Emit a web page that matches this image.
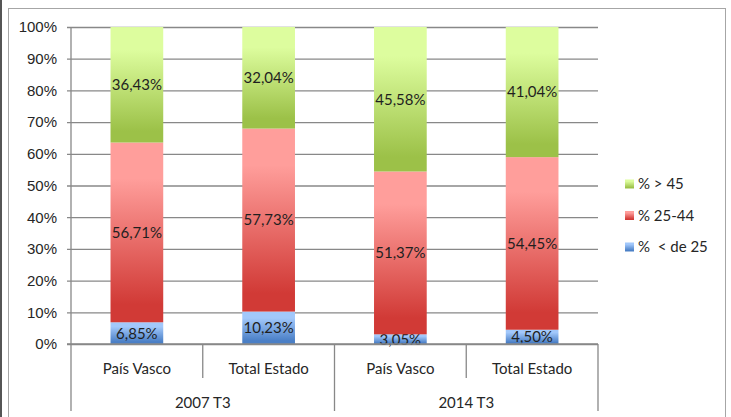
<!DOCTYPE html>
<html>
<head>
<meta charset="utf-8">
<script src="https://cdn.jsdelivr.net/npm/d3@7"></script>
<style>
  body { margin: 0; background: #fff; }
  svg { display: block; font-family: Lato, "Open Sans", sans-serif; }
  .tick text { fill: #262626; }
</style>
</head>
<body>
<div class="chart-container"></div>
<script>
(function() {
  ////////////////////////////////////////////////////////////
  //// Data //////////////////////////////////////////////////
  ////////////////////////////////////////////////////////////
  const groups = ["2007 T3", "2014 T3"];
  const regions = ["País Vasco", "Total Estado"];
  const seriesNames = ["% < de 25", "% 25-44", "% > 45"];
  const legendLabels = ["% > 45", "% 25-44", "%  < de 25"];
  const under25 = [6.85, 10.23, 3.05, 4.50];
  const age25to44 = [56.71, 57.73, 51.37, 54.45];
  const over45 = [36.43, 32.04, 45.58, 41.04];
  const yTicks = [0, 10, 20, 30, 40, 50, 60, 70, 80, 90, 100];

  const categories = d3.cross(groups, regions).map(d => d.join("|"));
  const rows = categories.map((c, i) => ({
    key: c,
    [seriesNames[0]]: under25[i],
    [seriesNames[1]]: age25to44[i],
    [seriesNames[2]]: over45[i]
  }));
  const stacked = d3.stack().keys(seriesNames)(rows);

  ////////////////////////////////////////////////////////////
  //// Chart /////////////////////////////////////////////////
  ////////////////////////////////////////////////////////////
  const chartWidth = 731;
  const chartHeight = 417;
  const plot = { left: 71, right: 598, top: 27, bottom: 344 };
  const fontSize = 15;

  const gradients = [
    { id: "grad-blue", top: "#a2c8fb", bottom: "#4a7fc6" },
    { id: "grad-red", top: "#ff9e9b", bottom: "#d13a36" },
    { id: "grad-green", top: "#ddfd9e", bottom: "#9cc148" }
  ];

  const xScale = d3
    .scaleBand()
    .domain(categories)
    .range([plot.left, plot.right])
    .paddingInner(0.6)
    .paddingOuter(0.3);

  const yScale = d3
    .scaleLinear()
    .domain([0, 100])
    .range([plot.bottom, plot.top]);

  const svg = d3
    .select(".chart-container")
    .append("svg")
    .attr("width", chartWidth)
    .attr("height", chartHeight);

  const defs = svg.append("defs");
  gradients.forEach(gr => {
    const lg = defs
      .append("linearGradient")
      .attr("id", gr.id)
      .attr("x1", 0)
      .attr("y1", 0)
      .attr("x2", 0)
      .attr("y2", 1);
    lg.append("stop").attr("offset", "0%").attr("stop-color", gr.top);
    lg.append("stop").attr("offset", "20%").attr("stop-color", gr.top);
    lg.append("stop").attr("offset", "90%").attr("stop-color", gr.bottom);
    lg.append("stop").attr("offset", "100%").attr("stop-color", gr.bottom);
  });

  // outer frame
  svg
    .append("line")
    .attr("x1", 1)
    .attr("x2", 1)
    .attr("y1", 0)
    .attr("y2", chartHeight)
    .attr("stroke", "#555")
    .attr("stroke-width", 2);
  svg
    .append("rect")
    .attr("x", 8.5)
    .attr("y", 8.5)
    .attr("width", 717)
    .attr("height", chartHeight)
    .attr("fill", "none")
    .attr("stroke", "#a6a6a6");

  // grid + y axis
  const yAxis = g =>
    g
      .call(
        d3
          .axisLeft(yScale)
          .tickValues(yTicks)
          .tickSize(4)
          .tickPadding(10)
          .tickFormat(d => d + "%")
      )
      .call(g => g.select(".domain").remove())
      .call(g =>
        g
          .selectAll(".tick line")
          .attr("x1", -4)
          .attr("x2", plot.right - plot.left)
          .attr("stroke", "#888")
          .attr("stroke-width", 1.3)
      )
      .call(g =>
        g
          .selectAll(".tick text")
          .attr("font-size", fontSize)
          .attr("font-family", null)
      );

  svg
    .append("g")
    .attr("transform", `translate(${plot.left},0)`)
    .call(yAxis);

  // bars
  const color = i => `url(#${gradients[i].id})`;
  const layers = svg
    .append("g")
    .selectAll("g")
    .data(stacked)
    .join("g")
    .attr("fill", (d, i) => color(i));

  layers
    .selectAll("rect")
    .data(d => d)
    .join("rect")
    .attr("x", d => xScale(d.data.key))
    .attr("y", d => yScale(d[1]))
    .attr("width", xScale.bandwidth())
    .attr("height", d => yScale(d[0]) - yScale(d[1]));

  layers
    .selectAll("text")
    .data(d => d.map(v => Object.assign(v, { name: d.key })))
    .join("text")
    .attr("x", d => xScale(d.data.key) + xScale.bandwidth() / 2)
    .attr("y", d => (yScale(d[0]) + yScale(d[1])) / 2)
    .attr("dy", "0.36em")
    .attr("text-anchor", "middle")
    .attr("font-size", fontSize)
    .attr("fill", "#1f1f1f")
    .text(d => d3.format(".2f")(d.data[d.name]).replace(".", ",") + "%");

  // x axis (two levels)
  const gx = svg.append("g").attr("stroke", "#888").attr("stroke-width", 1.3);
  gx.append("line")
    .attr("x1", plot.left - 4)
    .attr("x2", plot.right)
    .attr("y1", plot.bottom)
    .attr("y2", plot.bottom);
  gx.append("line")
    .attr("x1", plot.left)
    .attr("x2", plot.left)
    .attr("y1", plot.top)
    .attr("y2", plot.bottom);

  const step = xScale.step();
  const bounds = d3.range(categories.length + 1).map(i => plot.left + i * step);
  gx.selectAll(".sep")
    .data(bounds)
    .join("line")
    .attr("x1", d => d)
    .attr("x2", d => d)
    .attr("y1", plot.bottom)
    .attr("y2", (d, i) => (i % regions.length === 0 ? 411 : 378));

  svg
    .append("g")
    .selectAll("text")
    .data(categories)
    .join("text")
    .attr("x", d => xScale(d) + xScale.bandwidth() / 2)
    .attr("y", 369)
    .attr("dy", "0.36em")
    .attr("text-anchor", "middle")
    .attr("font-size", fontSize)
    .attr("fill", "#262626")
    .text(d => d.split("|")[1]);

  svg
    .append("g")
    .selectAll("text")
    .data(groups)
    .join("text")
    .attr("x", (d, i) => plot.left + step * regions.length * (i + 0.5))
    .attr("y", 403)
    .attr("dy", "0.36em")
    .attr("text-anchor", "middle")
    .attr("font-size", fontSize)
    .attr("fill", "#262626")
    .text(d => d);

  // legend
  const legend = svg
    .append("g")
    .selectAll("g")
    .data(legendLabels)
    .join("g")
    .attr("transform", (d, i) => `translate(625,${184 + i * 31.5})`);
  legend
    .append("rect")
    .attr("x", 0)
    .attr("y", -4.5)
    .attr("width", 9)
    .attr("height", 9)
    .attr("fill", (d, i) => color(2 - i));
  legend
    .append("text")
    .attr("x", 13)
    .attr("dy", "0.36em")
    .attr("font-size", fontSize)
    .attr("fill", "#262626")
    .style("white-space", "pre")
    .text(d => d);
})();
</script>
</body>
</html>
